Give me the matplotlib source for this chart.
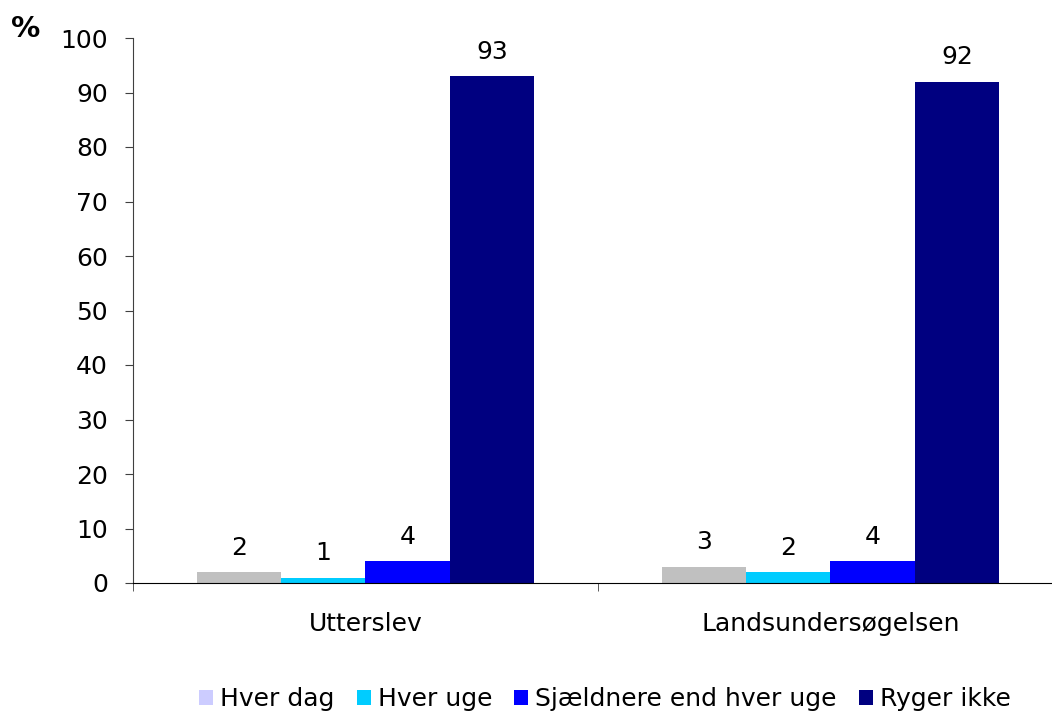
import matplotlib
matplotlib.use("Agg")
import matplotlib.pyplot as plt
from matplotlib.patches import Patch
import numpy as np

groups = ["Utterslev", "Landsundersøgelsen"]
series = ["Hver dag", "Hver uge", "Sjældnere end hver uge", "Ryger ikke"]
hver_dag = [2, 3]
hver_uge = [1, 2]
sjaeldnere = [4, 4]
ryger_ikke = [93, 92]
y_ticks = list(range(0, 101, 10))

values = [hver_dag, hver_uge, sjaeldnere, ryger_ikke]
bar_colors = ["#c0c0c0", "#00ccff", "#0000ff", "#000080"]
legend_colors = ["#ccccff", "#00ccff", "#0000ff", "#000080"]

plt.rcParams["font.family"] = ["DejaVu Sans"]
FS = 18

fig = plt.figure(figsize=(10.52, 7.13), dpi=100)
ax = fig.add_axes([133 / 1052, 130 / 713, 930 / 1052, 545 / 713])

x = np.arange(len(groups))
w = 0.1817
offsets = (np.arange(len(series)) - 1.5) * w
for vals, off, col in zip(values, offsets, bar_colors):
    bars = ax.bar(x + off, vals, width=w, color=col, edgecolor="none", zorder=2)
    for b, v in zip(bars, vals):
        ax.annotate(str(v), (b.get_x() + b.get_width() / 2, v),
                    xytext=(0, 9), textcoords="offset points",
                    ha="center", va="bottom", fontsize=FS)

ax.set_xlim(-0.5, 1.5)
ax.set_ylim(0, 100)
ax.set_yticks(y_ticks)
ax.tick_params(axis="y", labelsize=FS, length=6, direction="out", pad=12, color="#404040")
ax.set_xticks(x)
ax.set_xticklabels(groups, fontsize=FS)
ax.tick_params(axis="x", which="major", length=0, pad=21)
ax.set_xticks([-0.5, 0.5, 1.5], minor=True)
ax.tick_params(axis="x", which="minor", length=6, direction="out", color="#404040")

for s in ["top", "right"]:
    ax.spines[s].set_visible(False)
ax.spines["left"].set_color("#404040")
ax.spines["bottom"].set_color("#000000")

fig.text(26 / 1052, 1 - 29 / 713, "%", fontsize=21, fontweight="bold", va="center", ha="center")

handles = [Patch(facecolor=c, edgecolor="none") for c in legend_colors]
fig.legend(handles, series, loc="center", bbox_to_anchor=(605 / 1052, 14 / 713),
           ncol=4, frameon=False, fontsize=FS, handlelength=0.56, handleheight=0.56,
           handletextpad=0.28, columnspacing=0.88, borderpad=0, borderaxespad=0)

fig.savefig("out.png", dpi=100)
